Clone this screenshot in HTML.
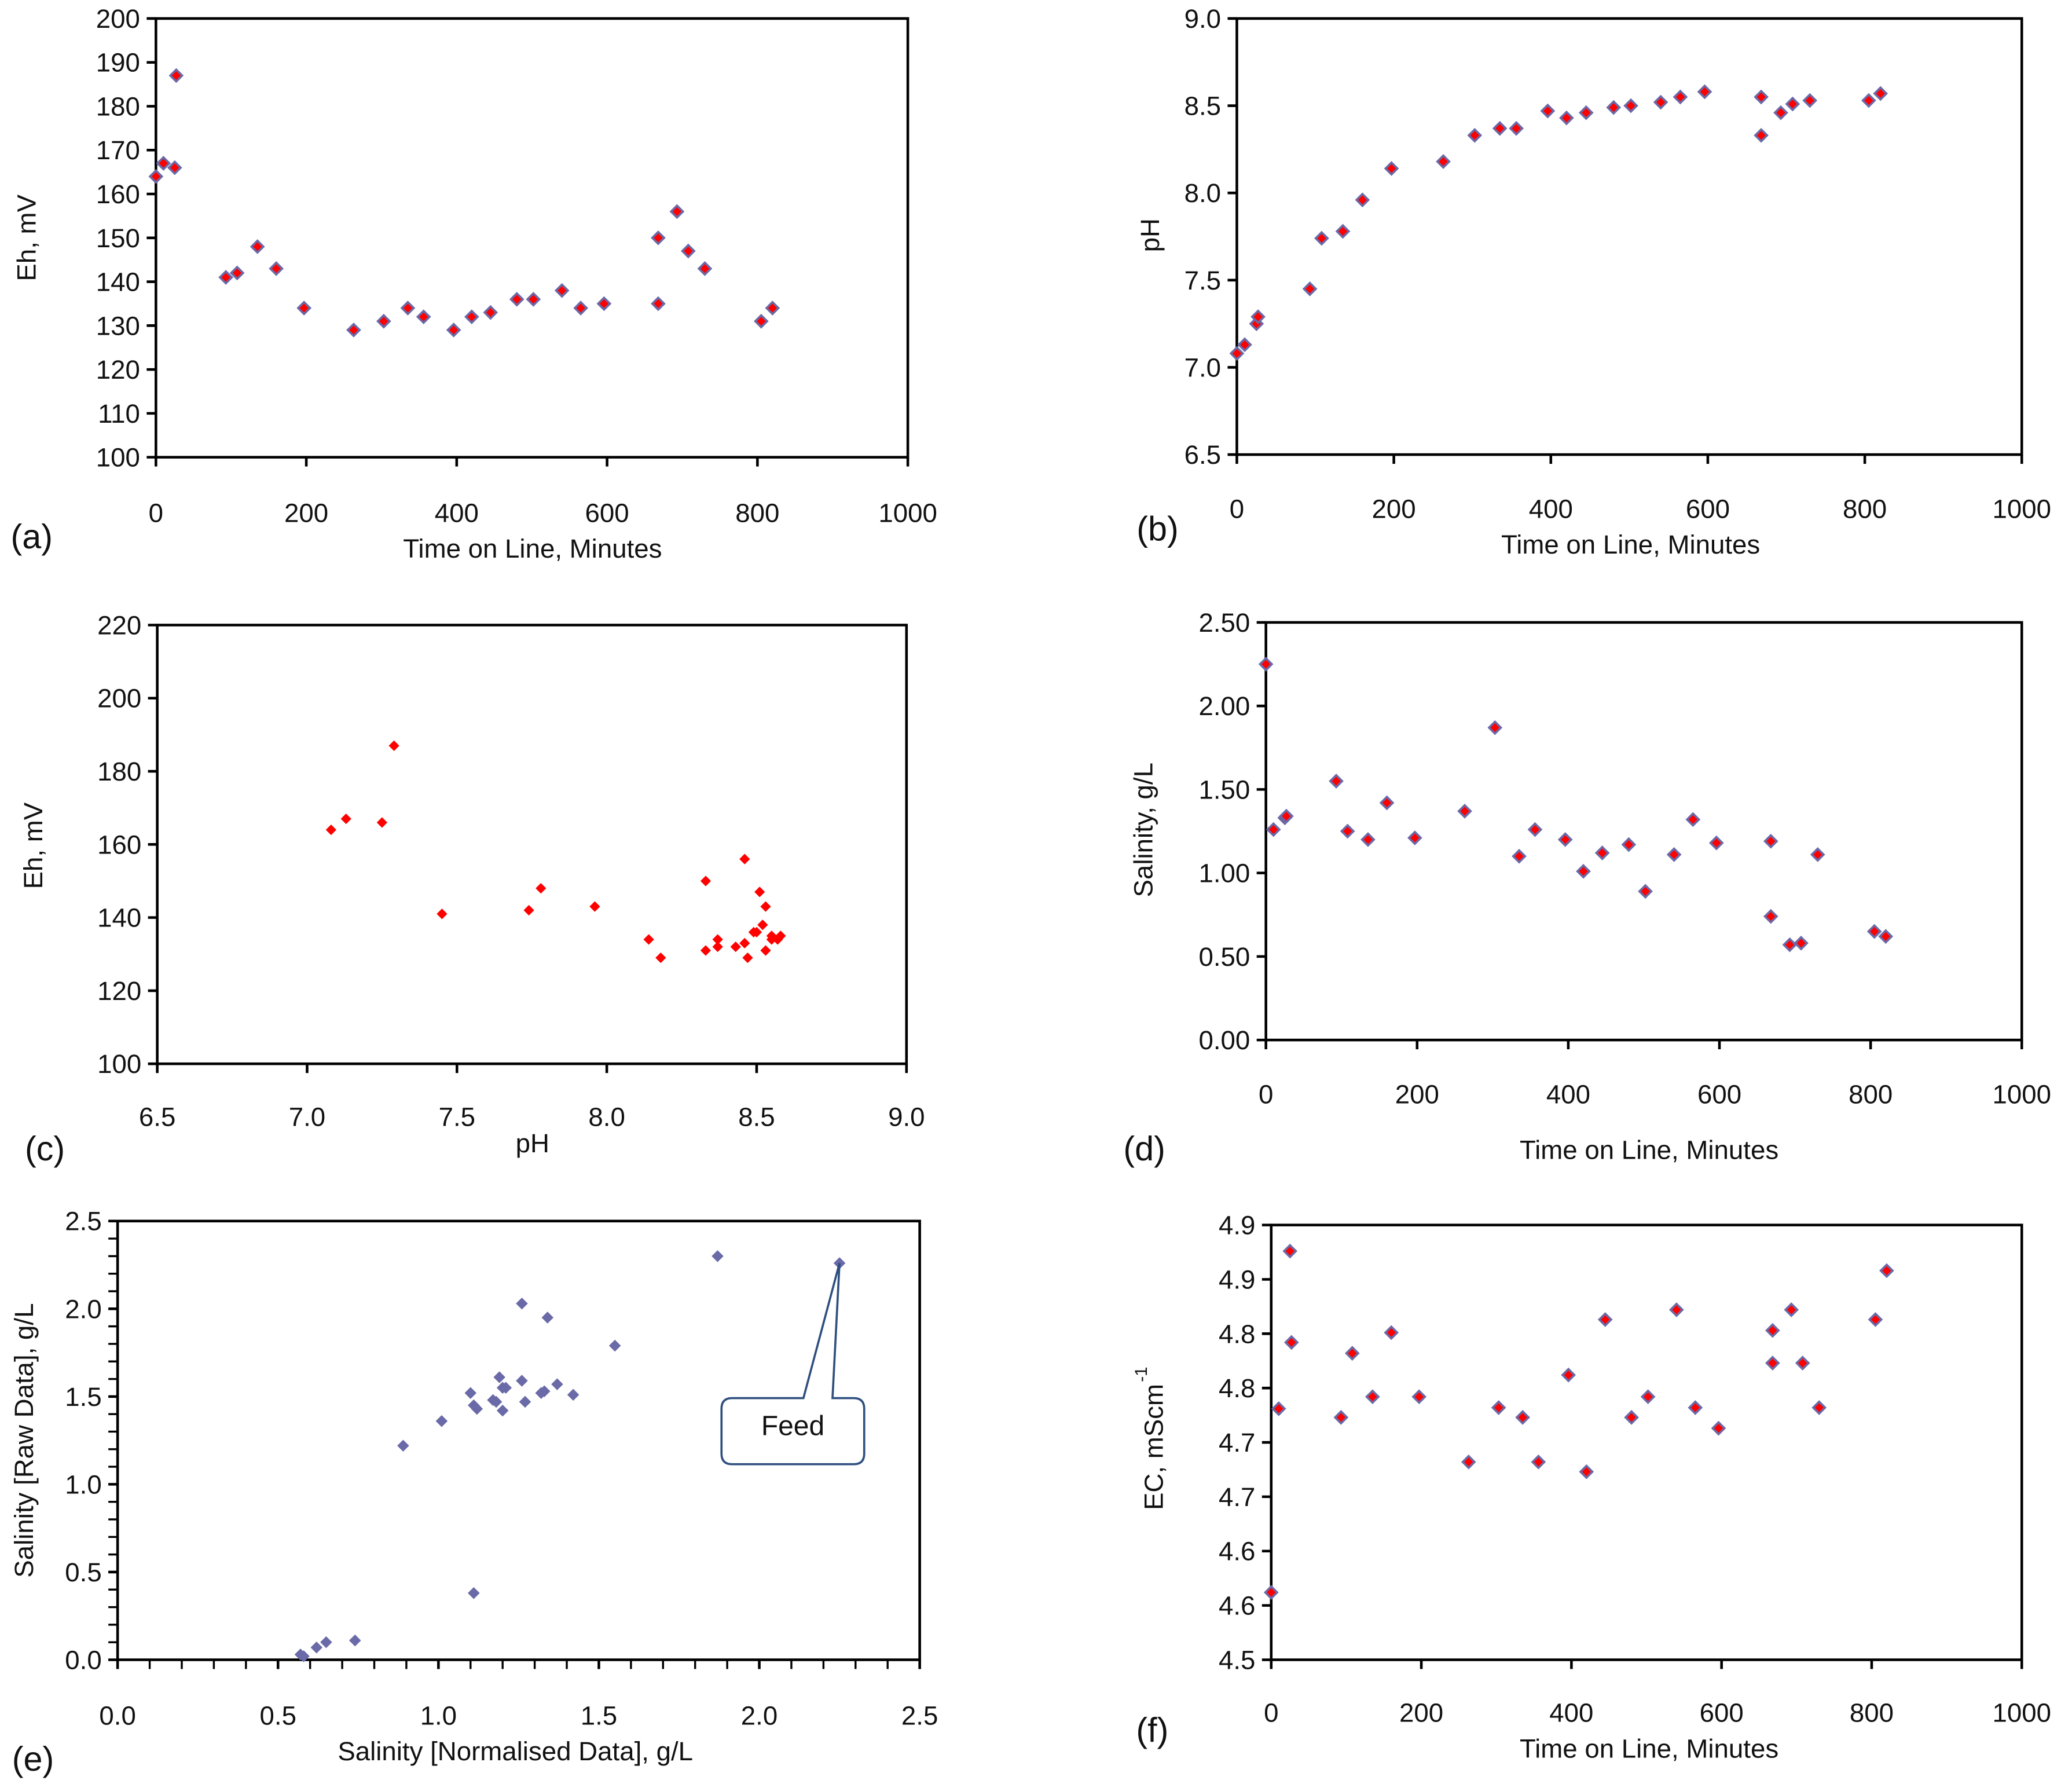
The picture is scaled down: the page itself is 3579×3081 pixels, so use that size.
<!DOCTYPE html>
<html><head><meta charset="utf-8"><style>
html,body{margin:0;padding:0;background:#fff}
svg{display:block}
text{font-family:"Liberation Sans","DejaVu Sans",sans-serif;fill:#111}
</style></head><body>
<svg id="fig" width="3579" height="3081" viewBox="0 0 1568 1350" preserveAspectRatio="none" xmlns="http://www.w3.org/2000/svg">
<rect width="1568" height="1350" fill="#fff"/>
</svg>
<script>
// shared time series (minutes)
const timeMin=[0,10,25,27,93,108,135,160,197,263,303,335,356,396,420,445,480,502,540,565,596,668,668,693,708,730,805,820];
const ehValues=[164,167,166,187,141,142,148,143,134,129,131,134,132,129,132,133,136,136,138,134,135,150,135,156,147,143,131,134];
const phValues=[7.08,7.13,7.25,7.29,7.45,7.74,7.78,7.96,8.14,8.18,8.33,8.37,8.37,8.47,8.43,8.46,8.49,8.50,8.52,8.55,8.58,8.33,8.55,8.46,8.51,8.53,8.53,8.57];
const salValues=[2.25,1.26,1.33,1.34,1.55,1.25,1.20,1.42,1.21,1.37,1.87,1.10,1.26,1.20,1.01,1.12,1.17,0.89,1.11,1.32,1.18,1.19,0.74,0.57,0.58,1.11,0.65,0.62];
const ecValues=[4.562,4.731,4.876,4.792,4.723,4.782,4.742,4.801,4.742,4.682,4.732,4.723,4.682,4.762,4.673,4.813,4.723,4.742,4.822,4.732,4.713,4.803,4.773,4.822,4.773,4.732,4.813,4.858];
const salNorm=[0.57,0.58,0.62,0.65,0.74,0.89,1.01,1.10,1.11,1.12,1.11,1.17,1.18,1.19,1.20,1.20,1.21,1.26,1.26,1.27,1.32,1.33,1.34,1.37,1.42,1.55,1.87,2.25];
const salRaw=[0.03,0.02,0.07,0.10,0.11,1.22,1.36,1.52,1.45,1.43,0.38,1.48,1.47,1.61,1.42,1.55,1.55,2.03,1.59,1.47,1.52,1.53,1.95,1.57,1.51,1.79,2.30,2.26];
const ecTickLabels=["4.5","4.6","4.6","4.7","4.7","4.8","4.8","4.9","4.9"];

const svg=document.getElementById('fig');
const NS='http://www.w3.org/2000/svg';
function mk(tag,attrs,parent){const e=document.createElementNS(NS,tag);for(const k in attrs)e.setAttribute(k,attrs[k]);(parent||svg).appendChild(e);return e;}
function txt(s,x,y,size,anchor,parent,rot){const t=mk('text',{x:x,y:y,'font-size':size,'text-anchor':anchor||'middle'},parent);if(rot)t.setAttribute('transform','rotate(-90 '+x+' '+y+')');t.textContent=s;return t;}

function panel(p){
  const g=mk('g',{});
  
  
  const sx=v=>p.L+(v-p.x0)/(p.x1-p.x0)*(p.R-p.L);
  const sy=v=>p.B-(v-p.y0)/(p.y1-p.y0)*(p.B-p.T);
  const fr=mk('rect',{x:p.L,y:p.T,width:p.R-p.L,height:p.B-p.T,fill:'none',stroke:'#000','stroke-width':2},g);
  
  
  // x ticks
  const nx=Math.round((p.x1-p.x0)/p.xs);
  for(let i=0;i<=nx;i++){const v=p.x0+i*p.xs,x=sx(v);
    mk('line',{x1:x,y1:p.B,x2:x,y2:p.B+7,stroke:'#000','stroke-width':2},g);
    const t=txt(p.xf(v),x,p.xly,20,'middle',g);
    
    }
  if(p.xm){const n=Math.round((p.x1-p.x0)/p.xm);for(let i=0;i<=n;i++){const x=sx(p.x0+i*p.xm);mk('line',{x1:x,y1:p.B,x2:x,y2:p.B+7,stroke:'#000','stroke-width':1.5},g);}}
  const ny=Math.round((p.y1-p.y0)/p.ys);
  for(let i=0;i<=ny;i++){const v=p.y0+i*p.ys,y=sy(v);
    mk('line',{x1:p.L-7,y1:y,x2:p.L,y2:y,stroke:'#000','stroke-width':2},g);
    const t=txt(p.yl?p.yl[i]:p.yf(v),p.L-12,y+7,20,'end',g);
    
    }
  if(p.ym){const n=Math.round((p.y1-p.y0)/p.ym);for(let i=0;i<=n;i++){const y=sy(p.y0+i*p.ym);mk('line',{x1:p.L-7,y1:y,x2:p.L,y2:y,stroke:'#000','stroke-width':1.5},g);}}
  const xt=txt(p.xt[0],p.xt[1],p.xt[2],20,'middle',g);
  
  
  const yt=txt(p.yt[0],p.yt[1],p.yt[2],20,'middle',g,true);
  
  
  const pl=txt(p.lab[0],p.lab[1],p.lab[2],26,'middle',g);
  
  
  for(let i=0;i<p.xs_.length;i++){const x=sx(p.xs_[i]),y=sy(p.ys_[i]);const r=p.r||4.5;
    const d=mk('polygon',{points:`${x},${y-r} ${x+r},${y} ${x},${y+r} ${x-r},${y}`,fill:p.fill,stroke:p.stroke||'none','stroke-width':p.stroke?1.6:0},g);
    
    }
  return {g,sx,sy};
}
const f0=v=>String(Math.round(v)), f1=v=>v.toFixed(1), f2=v=>v.toFixed(2);
const RED='#ff0000', BLUE='#6a6aa8';

panel({name:'panel-a-eh-vs-time',L:118,R:687,T:14,B:346,x0:0,x1:1000,xs:200,y0:100,y1:200,ys:10,xf:f0,yf:f0,xly:395,
  xt:['Time on Line, Minutes',403,422],yt:['Eh, mV',27,180],lab:['(a)',24,415],xs_:timeMin,ys_:ehValues,fill:RED,stroke:BLUE});
panel({name:'panel-b-ph-vs-time',L:936,R:1530,T:14,B:344,x0:0,x1:1000,xs:200,y0:6.5,y1:9,ys:0.5,xf:f0,yf:f1,xly:392,
  xt:['Time on Line, Minutes',1234,419],yt:['pH',877,178],lab:['(b)',876,409],xs_:timeMin,ys_:phValues,fill:RED,stroke:BLUE});
panel({name:'panel-c-eh-vs-ph',L:119,R:686,T:473,B:805,x0:6.5,x1:9,xs:0.5,y0:100,y1:220,ys:20,xf:f1,yf:f0,xly:852,
  xt:['pH',403,872],yt:['Eh, mV',32,640],lab:['(c)',34,878],xs_:phValues,ys_:ehValues,fill:RED,r:4});
panel({name:'panel-d-salinity-vs-time',L:958,R:1530,T:471,B:787,x0:0,x1:1000,xs:200,y0:0,y1:2.5,ys:0.5,xf:f0,yf:f2,xly:835,
  xt:['Time on Line, Minutes',1248,877],yt:['Salinity, g/L',872,628],lab:['(d)',866,878],xs_:timeMin,ys_:salValues,fill:RED,stroke:BLUE});
const pe=panel({name:'panel-e-raw-vs-normalised-salinity',L:89,R:696,T:924,B:1256,x0:0,x1:2.5,xs:0.5,xm:0.1,y0:0,y1:2.5,ys:0.5,ym:0.1,xf:f1,yf:f1,xly:1305,
  xt:['Salinity  [Normalised Data], g/L',390,1332],yt:['Salinity [Raw Data],  g/L',25,1090],lab:['(e)',25,1340],xs_:salNorm,ys_:salRaw,fill:BLUE});
panel({name:'panel-f-ec-vs-time',L:962,R:1530,T:927,B:1256,x0:0,x1:1000,xs:200,y0:4.5,y1:4.9,ys:0.05,yl:ecTickLabels,xf:f0,yf:f1,xly:1303,
  xt:['Time on Line, Minutes',1248,1330],yt:['EC, mScm',880,1095],lab:['(f)',872,1318],xs_:timeMin,ys_:ecValues,fill:RED,stroke:BLUE});
const sup=txt('-1',868,1040,13,'middle',svg,true);



// Feed callout in panel e
const cx=pe.sx(salNorm[salNorm.length-1]), cy=pe.sy(salRaw[salRaw.length-1]);
const co=mk('path',{d:`M608,1058 L${cx},${cy} L630,1058 L646,1058 Q654,1058 654,1066 L654,1100 Q654,1108 646,1108 L554,1108 Q546,1108 546,1100 L546,1066 Q546,1058 554,1058 Z`,fill:'#fff',stroke:'#2f4f7f','stroke-width':1.6});


const ft=txt('Feed',600,1086,21,'middle');


</script>
</body></html>
